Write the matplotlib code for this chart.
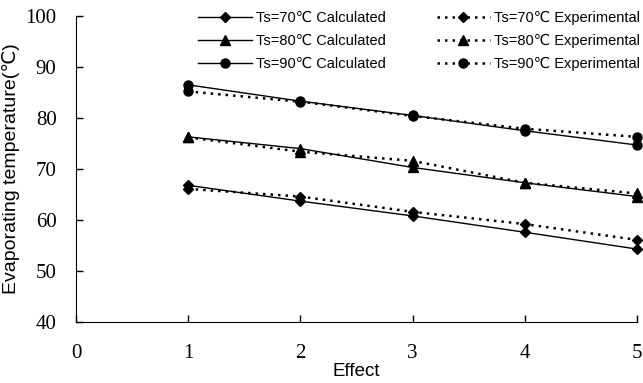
import matplotlib.pyplot as plt

effect = [1, 2, 3, 4, 5]

calc_70 = [66.8, 63.7, 60.8, 57.6, 54.3]
calc_80 = [76.3, 74.0, 70.3, 67.3, 64.6]
calc_90 = [86.5, 83.3, 80.5, 77.5, 74.7]

exp_70 = [66.1, 64.6, 61.6, 59.2, 56.1]
exp_80 = [76.2, 73.4, 71.6, 67.3, 65.2]
exp_90 = [85.2, 83.2, 80.4, 77.9, 76.3]

labels_calc = ['Ts=70\u2103 Calculated', 'Ts=80\u2103 Calculated', 'Ts=90\u2103 Calculated']
labels_exp = ['Ts=70\u2103 Experimental', 'Ts=80\u2103 Experimental', 'Ts=90\u2103 Experimental']

plt.rcParams['font.family'] = ['Liberation Sans', 'DejaVu Sans']

fig = plt.figure(figsize=(6.43, 3.83), dpi=100)
ax = fig.add_axes([76 / 643, 1 - 322 / 383, 561 / 643, 306 / 383])

markers = ['D', '^', 'o']
sizes = [5.5, 7, 6.5]
dot = (0, (1, 2))

for ys, m, s, lab in zip([calc_70, calc_80, calc_90], markers, sizes, labels_calc):
    ax.plot(effect, ys, color='black', lw=1, marker=m, ms=s, label=lab, clip_on=False)
for ys, m, s, lab in zip([exp_70, exp_80, exp_90], markers, sizes, labels_exp):
    ax.plot(effect, ys, color='black', lw=1.8, linestyle=dot, marker=m, ms=s, label=lab, clip_on=False)

ax.set_xlim(0, 5)
ax.set_ylim(40, 100)
ax.set_xticks(range(0, 6))
ax.set_yticks(range(40, 101, 10))
ax.spines['top'].set_visible(False)
ax.spines['right'].set_visible(False)
ax.tick_params(direction='in', length=5, width=1)
ax.tick_params(axis='y', pad=14)
ax.tick_params(axis='x', pad=16)
for t in ax.get_xticklabels() + ax.get_yticklabels():
    t.set_fontfamily('Liberation Serif')
    t.set_fontsize(15)

ax.set_xlabel('Effect', fontsize=13.5, labelpad=0)
ax.set_ylabel('Evaporating temperature(\u2103)', fontsize=14, labelpad=4)

ax.legend(ncol=2, loc='upper left', bbox_to_anchor=(198 / 643, 1 - 11 / 383),
          bbox_transform=fig.transFigure, frameon=False, fontsize=10.5,
          handlelength=3.7, handletextpad=0.25, columnspacing=3.5,
          labelspacing=0.62, borderpad=0, borderaxespad=0)

plt.savefig('out.png', dpi=100)
